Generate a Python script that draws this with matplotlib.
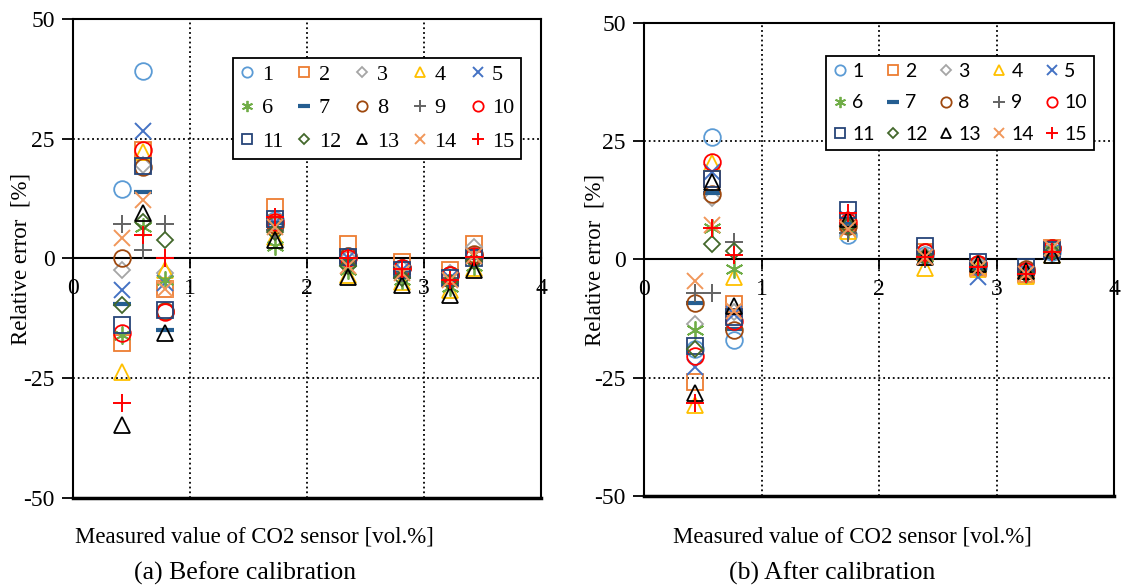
import matplotlib
matplotlib.use("Agg")
import matplotlib.pyplot as plt

plt.rcParams['font.family'] = ['Liberation Serif', 'DejaVu Serif']
plt.rcParams['axes.unicode_minus'] = False

# sensor numbers
sensors = [str(i) for i in range(1, 16)]

# measured CO2 values [vol.%] of the eight test points
x_before = [0.42, 0.60, 0.79, 1.73, 2.35, 2.81, 3.22, 3.43]
x_after = [0.43, 0.58, 0.77, 1.74, 2.39, 2.84, 3.25, 3.47]

# relative error [%] per sensor, before calibration
err_before = [
    [14.6, 39.2, -11.0, 8.0, 0.5, -2.0, -3.5, 0.5],
    [-17.7, 22.6, -6.3, 10.8, 3.1, -0.8, -2.5, 3.0],
    [-2.4, 19.5, -3.1, 7.0, 0.0, -2.0, -3.0, 2.3],
    [-23.6, 22.2, -2.4, 4.5, -3.5, -5.0, -6.5, -2.0],
    [-6.6, 26.7, -5.2, 7.5, 0.0, -2.5, -4.0, 0.5],
    [-16.0, 6.6, -4.5, 2.7, -2.5, -4.5, -6.0, -1.5],
    [-9.4, 13.9, -14.9, 7.5, -0.5, -3.0, -4.5, 0.0],
    [0.2, 19.1, -11.0, 7.0, 0.5, -2.0, -3.5, 1.0],
    [7.2, 1.7, 7.3, 6.0, -1.0, -3.0, -4.0, 0.0],
    [-15.6, 22.6, -11.1, 7.6, 0.0, -2.0, -3.5, 0.5],
    [-13.9, 19.4, -10.8, 8.3, 0.3, -2.5, -4.0, 0.0],
    [-9.7, 7.6, 3.8, 5.5, -1.5, -4.0, -5.0, -0.5],
    [-34.7, 9.4, -15.6, 3.9, -3.9, -5.6, -7.6, -2.5],
    [4.2, 12.2, -6.3, 6.5, -1.5, -3.0, -4.5, 0.5],
    [-30.2, 4.9, 0.0, 8.7, 0.0, -2.1, -4.5, 0.3],
]

# relative error [%] per sensor, after calibration
err_after = [
    [-19.0, 25.9, -17.1, 5.2, 1.0, -1.5, -2.5, 1.5],
    [-25.9, 17.0, -9.4, 8.0, 1.5, -1.5, -3.0, 2.5],
    [-13.6, 12.9, -11.0, 7.0, 1.0, -1.0, -2.0, 2.0],
    [-30.8, 20.3, -3.8, 6.0, -1.7, -2.0, -3.5, 1.0],
    [-22.7, 18.5, -11.5, 8.5, 0.5, -3.8, -2.5, 1.5],
    [-15.0, 6.6, -2.1, 6.5, 0.5, -1.5, -3.0, 2.0],
    [-9.3, 14.0, -14.7, 7.5, 0.5, -1.5, -2.5, 1.5],
    [-9.3, 13.8, -15.0, 7.0, 1.5, -1.0, -2.0, 2.5],
    [-7.0, -7.0, 3.8, 5.5, 0.0, -1.5, -3.0, 1.0],
    [-20.3, 20.6, -12.9, 8.0, 1.5, -1.0, -2.5, 2.5],
    [-18.2, 17.1, -12.2, 10.5, 2.8, -0.5, -1.5, 2.0],
    [-18.9, 3.3, 1.7, 7.0, 0.5, -1.5, -3.0, 1.5],
    [-28.3, 16.4, -9.8, 8.5, 0.5, -1.0, -2.5, 1.0],
    [-4.5, 7.3, -10.8, 6.5, 0.5, -2.0, -3.0, 2.5],
    [-30.4, 6.6, 1.0, 9.8, 0.5, -1.5, -3.0, 1.5],
]

# marker style per sensor: (marker, colour, size, edge width)
styles = [
    ('o', '#5B9BD5', 12, 1.3),
    ('s', '#ED7D31', 12, 1.3),
    ('D', '#A5A5A5', 8.5, 1.3),
    ('^', '#FFC000', 12, 1.3),
    ('x', '#4472C4', 11, 1.4),
    ((6, 2, 0), '#70AD47', 13, 1.3),
    ('_', '#255E91', 13, 3.0),
    ('o', '#9E480E', 12, 1.3),
    ('+', '#636363', 13, 1.4),
    ('o', '#FF0000', 12, 1.3),
    ('s', '#264478', 12, 1.3),
    ('D', '#43682B', 8.5, 1.3),
    ('^', '#000000', 12, 1.3),
    ('x', '#F1975A', 11, 1.4),
    ('+', '#FF0000', 13, 1.4),
]

fig = plt.figure(figsize=(11.21, 5.86), dpi=100)
ax1 = fig.add_axes([0.0651, 0.1502, 0.4175, 0.8174])
ax2 = fig.add_axes([0.5745, 0.1536, 0.4193, 0.8072])


def draw_panel(ax, xs, errs, legend_font, leg_opts, anchor, ylab_x,
               xlabel_x, title, title_x):
    for i, (m, c, s, w) in enumerate(styles):
        ax.plot(xs, errs[i], linestyle='none', marker=m, markersize=s,
                markerfacecolor='none', markeredgecolor=c, markeredgewidth=w,
                label=sensors[i], zorder=3)
    ax.set_xlim(0, 4)
    ax.set_ylim(-50, 50)
    ax.set_xticks([0, 1, 2, 3, 4])
    ax.set_yticks([-50, -25, 0, 25, 50])
    ax.grid(True, linestyle=':', color='black', linewidth=1.3)
    for s in ['top', 'left', 'right']:
        ax.spines[s].set_linewidth(1.5)
    ax.spines['bottom'].set_position(('data', 0))
    ax.spines['bottom'].set_linewidth(1.5)
    ax.axhline(-50, color='black', linewidth=2.5, clip_on=False, zorder=2)
    ax.tick_params(axis='y', direction='out', length=8, width=1.3,
                   labelsize=17, pad=5)
    ax.tick_params(axis='x', direction='out', length=7, width=1.3,
                   labelsize=17, pad=7)
    ax.set_ylabel('Relative error  [%]', fontsize=16.5)
    ax.yaxis.set_label_coords(ylab_x, 0.5)
    fig.text(xlabel_x, 0.083, 'Measured value of CO2 sensor [vol.%]',
             ha='center', va='center', fontsize=16.5)
    fig.text(title_x, 0.022, title, ha='center', va='center', fontsize=18.5)

    # legend filled row by row
    h, l = ax.get_legend_handles_labels()
    order = [r * 5 + c for c in range(5) for r in range(3)]
    leg = ax.legend([h[k] for k in order], [l[k] for k in order], ncol=5,
                    loc='upper left', bbox_to_anchor=anchor,
                    prop=legend_font, markerscale=0.62, fancybox=False,
                    framealpha=1, edgecolor='black', borderaxespad=0,
                    **leg_opts)
    leg.get_frame().set_linewidth(1.3)


draw_panel(ax1, x_before, err_before,
           {'family': 'Liberation Serif', 'size': 16},
           dict(handlelength=0.7, handletextpad=0.3, columnspacing=0.6,
                labelspacing=0.58, borderpad=0.3),
           (0.342, 0.919), -0.088,
           0.227, '(a) Before calibration', 0.219)
draw_panel(ax2, x_after, err_after,
           {'family': 'Lato', 'size': 14},
           dict(handlelength=0.7, handletextpad=0.3, columnspacing=0.57,
                labelspacing=0.75, borderpad=0.35),
           (0.387, 0.930), -0.083,
           0.760, '(b) After calibration', 0.742)

fig.savefig('out.png', dpi=100)
